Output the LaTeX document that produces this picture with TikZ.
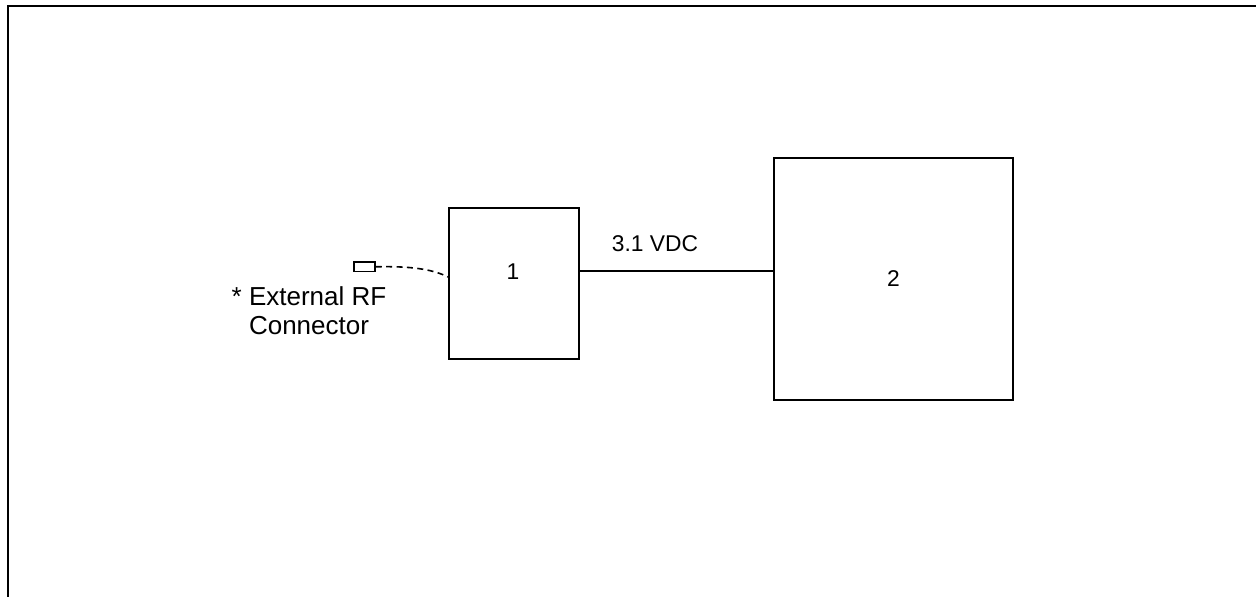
\documentclass[tikz,border=0pt]{standalone}
\usepackage{fontspec}
\setmainfont{Liberation Sans}
\usepackage{tikz}
\usetikzlibrary{calc}
\usepackage{xcolor}
\definecolor{ink}{HTML}{000000}
\newcommand{\lbl}{\fontsize{11.4}{13}\selectfont}
\newcommand{\rflbl}{\fontsize{13}{14.5}\selectfont}

\begin{document}
\begin{tikzpicture}[x=0.5pt,y=-0.5pt,line join=miter,
  blk/.style={draw=ink,line width=0.9pt,inner sep=0pt,font=\lbl},
  txt/.style={inner sep=0pt,font=\lbl},
  wire/.style={draw=ink,line width=0.9pt},
  frame/.style={draw=ink,line width=1.1pt}]
  \useasboundingbox (0,0) rectangle (1256,597);
  % page frame (only top and left edges show)
  \draw[frame] (1256,6) -- (8,6) -- (8,597);
  % the two blocks
  \node[blk,minimum width=130*0.5pt,minimum height=151*0.5pt] (b1) at (514,283.5) {};
  \node[txt] (b1lbl) at (513,272) {1};
  \node[blk,minimum width=239*0.5pt,minimum height=242*0.5pt] (b2) at (893.5,279) {2};
  % supply line between them
  \coordinate (vdc) at ($(b1.east)+(0,-12.5)$);
  \draw[wire] (vdc) -- (vdc -| b2.west);
  \node[txt] (vdclbl) at (655,244) {3.1 VDC};
  % external rf connector
  \node[draw=ink,line width=0.75pt,inner sep=0pt,minimum width=21*0.5pt,minimum height=9.5*0.5pt] (rf) at (364.5,266.8) {};
  \coordinate (rfin) at ($(b1.west)+(0,-6.5)$);
  \draw[wire,line width=0.8pt,dash pattern=on 3pt off 2.2pt] (rf.east) .. controls (410,266) and (432,269) .. (rfin);
  \node[inner sep=0pt,align=center,font=\rflbl] (rflbl) at (309,311) {* External RF\\Connector};
\end{tikzpicture}
\end{document}
